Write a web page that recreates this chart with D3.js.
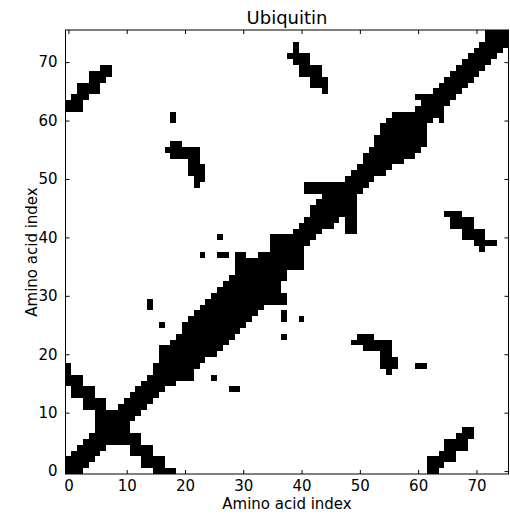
<!DOCTYPE html>
<html>
<head>
<meta charset="utf-8">
<script src="https://cdn.jsdelivr.net/npm/d3@7"></script>
<style>
  body { margin: 0; background: #fff; }
  text { font-family: "DejaVu Sans", sans-serif; }
</style>
</head>
<body>
<div id="container"></div>
<script>
/* CONSTANTS AND GLOBALS */
const width = 510,
  height = 515,
  margin = { top: 30, bottom: 41, left: 65.5, right: 1.5 };

const nResidues = 76;
const xTicks = [0, 10, 20, 30, 40, 50, 60, 70];
const yTicks = [0, 10, 20, 30, 40, 50, 60, 70];

// contact map, one entry per residue (row = y index), runs of contacting residues [from, to]
const contactRuns = [
  [[0, 2], [15, 18], [62, 63]],            // 0
  [[0, 3], [13, 16], [62, 64]],
  [[0, 4], [13, 16], [62, 66]],
  [[1, 5], [11, 14], [64, 66]],
  [[2, 6], [11, 14], [65, 68]],
  [[3, 12], [65, 68]],                     // 5
  [[4, 12], [67, 69]],
  [[5, 10], [68, 69]],
  [[5, 10]],
  [[5, 11]],
  [[5, 12]],                               // 10
  [[3, 6], [9, 13]],
  [[3, 6], [10, 14]],
  [[1, 4], [11, 15]],
  [[1, 4], [12, 16], [28, 29]],
  [[0, 2], [13, 18]],                      // 15
  [[0, 2], [14, 21], [25, 25]],
  [[0, 0], [15, 21], [55, 55]],
  [[0, 0], [15, 22], [54, 56], [60, 61]],
  [[16, 23], [54, 56]],
  [[16, 25], [54, 55]],                    // 20
  [[16, 26], [51, 55]],
  [[18, 27], [49, 55]],
  [[19, 28], [37, 37], [50, 52]],
  [[20, 29]],
  [[16, 16], [20, 30]],                    // 25
  [[21, 31], [37, 37], [40, 40]],
  [[22, 32], [37, 37]],
  [[14, 14], [23, 33]],
  [[14, 14], [24, 37]],
  [[25, 37]],                              // 30
  [[26, 36]],
  [[27, 36]],
  [[28, 37]],
  [[29, 37]],
  [[29, 40]],                              // 35
  [[29, 40]],
  [[23, 23], [26, 27], [29, 30], [33, 40]],
  [[35, 40], [71, 71]],
  [[35, 41], [70, 73]],
  [[26, 26], [35, 42], [68, 71]],          // 40
  [[39, 43], [48, 49], [68, 71]],
  [[40, 45], [48, 49], [66, 69]],
  [[41, 46], [48, 49], [66, 69]],
  [[42, 49], [65, 67]],
  [[42, 49]],                              // 45
  [[43, 49]],
  [[44, 49]],
  [[41, 50]],
  [[22, 22], [41, 51]],
  [[22, 23], [48, 52]],                    // 50
  [[21, 23], [49, 54]],
  [[21, 23], [50, 55]],
  [[21, 22], [51, 57]],
  [[18, 22], [51, 59]],
  [[17, 22], [52, 60]],                    // 55
  [[18, 19], [53, 61]],
  [[53, 61]],
  [[54, 61]],
  [[54, 61]],
  [[18, 18], [55, 62], [64, 64]],          // 60
  [[18, 18], [56, 64]],
  [[0, 2], [60, 64]],
  [[0, 2], [61, 65]],
  [[1, 3], [60, 66]],
  [[2, 5], [44, 44], [63, 67]],            // 65
  [[2, 5], [42, 44], [64, 68]],
  [[4, 6], [42, 44], [65, 69]],
  [[4, 7], [40, 43], [66, 70]],
  [[6, 7], [40, 43], [67, 71]],
  [[39, 41], [68, 72]],                    // 70
  [[38, 41], [69, 73]],
  [[39, 39], [70, 74]],
  [[39, 39], [71, 75]],
  [[72, 75]],
  [[72, 75]]                               // 75
];

/* SCALES */
const xScale = d3.scaleLinear()
  .domain([-0.5, nResidues - 0.5])
  .range([margin.left, width - margin.right]);

const yScale = d3.scaleLinear()
  .domain([-0.5, nResidues - 0.5])
  .range([height - margin.bottom, margin.top]);

/* HTML ELEMENTS */
const svg = d3.select("#container")
  .append("svg")
  .attr("width", width)
  .attr("height", height);

// flatten the runs into rects
const cells = contactRuns.flatMap((runs, row) =>
  runs.map(([from, to]) => ({ row, from, to })));

svg.append("g")
  .selectAll("rect")
  .data(cells)
  .join("rect")
  .attr("x", d => xScale(d.from - 0.5))
  .attr("width", d => xScale(d.to + 0.5) - xScale(d.from - 0.5))
  .attr("y", d => yScale(d.row + 0.5))
  .attr("height", d => yScale(d.row - 0.5) - yScale(d.row + 0.5))
  .attr("fill", "black")
  .attr("shape-rendering", "crispEdges");

// axes, ticks pointing inward like the old matplotlib style
const x0 = margin.left, x1 = width - margin.right;
const y0 = height - margin.bottom, y1 = margin.top;

const xAxis = d3.axisBottom(xScale).tickValues(xTicks).tickSizeInner(-4).tickSizeOuter(0).tickPadding(6);
const xAxisTop = d3.axisTop(xScale).tickValues(xTicks).tickSizeInner(-4).tickSizeOuter(0).tickFormat("");
const yAxis = d3.axisLeft(yScale).tickValues(yTicks).tickSizeInner(-4).tickSizeOuter(0).tickPadding(8);
const yAxisRight = d3.axisRight(yScale).tickValues(yTicks).tickSizeInner(-4).tickSizeOuter(0).tickFormat("");

svg.append("g").attr("transform", `translate(0,${y0})`).call(xAxis);
svg.append("g").attr("transform", `translate(0,${y1})`).call(xAxisTop);
svg.append("g").attr("transform", `translate(${x0},0)`).call(yAxis);
svg.append("g").attr("transform", `translate(${x1},0)`).call(yAxisRight);

svg.selectAll(".domain").remove();
svg.selectAll(".tick line").attr("stroke", "black");
svg.selectAll(".tick text")
  .attr("fill", "black")
  .style("font-size", "15px");

// frame
svg.append("rect")
  .attr("x", x0)
  .attr("y", y1)
  .attr("width", x1 - x0)
  .attr("height", y0 - y1)
  .attr("fill", "none")
  .attr("stroke", "black")
  .attr("stroke-width", 1);

// labels
svg.append("text")
  .attr("x", (x0 + x1) / 2)
  .attr("y", 24)
  .attr("text-anchor", "middle")
  .style("font-size", "18px")
  .text("Ubiquitin");

svg.append("text")
  .attr("x", (x0 + x1) / 2)
  .attr("y", 509)
  .attr("text-anchor", "middle")
  .style("font-size", "15px")
  .text("Amino acid index");

svg.append("text")
  .attr("transform", `translate(37,${(y0 + y1) / 2}) rotate(-90)`)
  .attr("text-anchor", "middle")
  .style("font-size", "15px")
  .text("Amino acid index");
</script>
</body>
</html>
